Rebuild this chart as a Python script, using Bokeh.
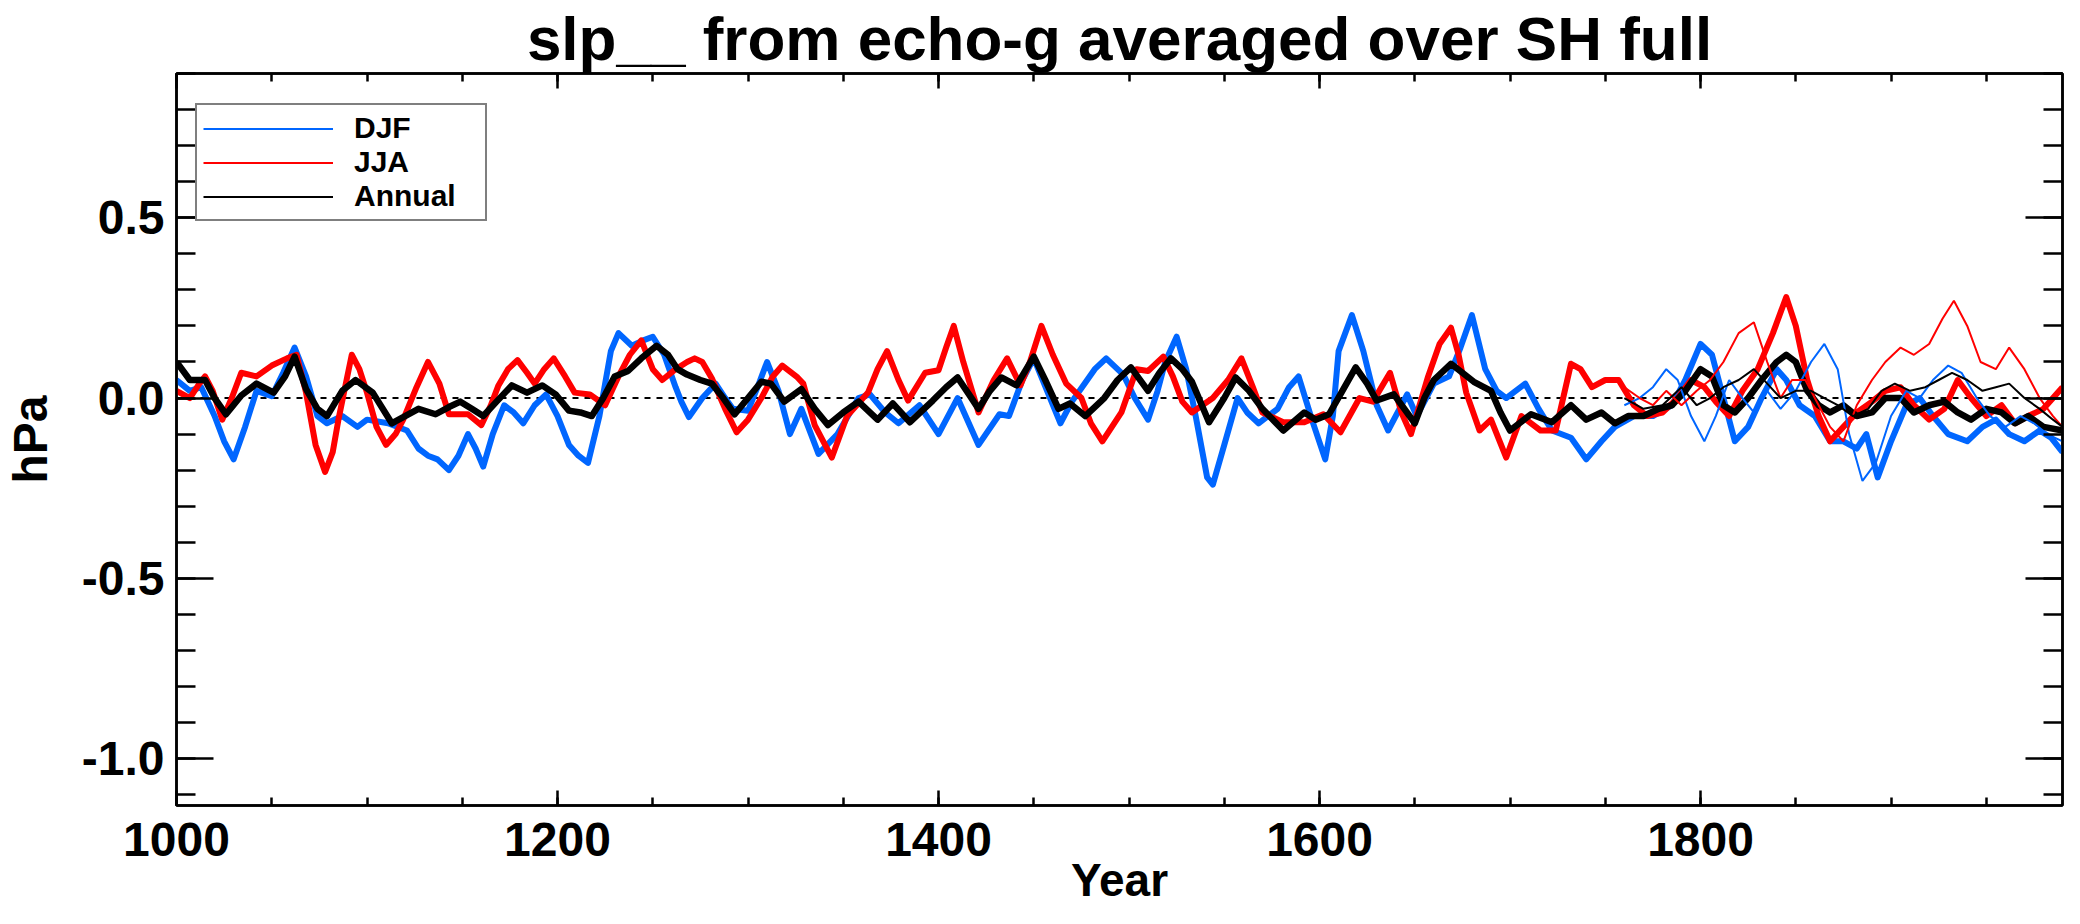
from bokeh.plotting import figure
from bokeh.models import (Range1d, LinearAxis, SingleIntervalTicker, PrintfTickFormatter,
                          Span, Legend, LegendItem)
from bokeh.embed import file_html
from bokeh.resources import INLINE

TITLE = "slp__ from echo-g averaged over SH full"
X_LABEL = "Year"
Y_LABEL = "hPa"
SERIES_NAMES = ["DJF", "JJA", "Annual"]
X_START, X_END = 1000, 1990
Y_START, Y_END = -1.13, 0.9

# ---- model run (thick lines) ----
djf_year = [1000, 1007, 1013, 1020, 1025, 1030, 1036, 1042, 1050, 1056, 1062, 1068, 1074, 1079,
            1087, 1095, 1100, 1111, 1121, 1127, 1132, 1137, 1143, 1148, 1153, 1157, 1161, 1166,
            1172, 1177, 1182, 1188, 1194, 1200, 1206, 1211, 1216, 1222, 1228, 1232, 1239, 1245,
            1250, 1256, 1262, 1265, 1269, 1276, 1283, 1288, 1292, 1300, 1305, 1310, 1316, 1322,
            1328, 1337, 1347, 1358, 1364, 1372, 1379, 1390, 1400, 1410, 1421, 1432, 1437, 1444,
            1450, 1457, 1464, 1470, 1476, 1482, 1488, 1497, 1503, 1510, 1515, 1519, 1525, 1530,
            1535, 1541, 1544, 1550, 1557, 1562, 1568, 1578, 1584, 1589, 1596, 1603, 1607, 1610,
            1617, 1623, 1630, 1636, 1646, 1651, 1660, 1668, 1674, 1680, 1687, 1693, 1698, 1708,
            1715, 1722, 1732, 1740, 1748, 1755, 1765, 1775, 1785, 1792, 1800, 1806, 1812, 1818,
            1825, 1832, 1840, 1845, 1852, 1860, 1868, 1875, 1882, 1887, 1893, 1900, 1908, 1915,
            1922, 1930, 1940, 1948, 1955, 1962, 1970, 1978, 1984, 1990]
djf_val = [0.05, 0.02, 0.03, -0.05, -0.12, -0.17, -0.08, 0.02, 0.005, 0.07, 0.14, 0.06, -0.05, -0.07,
           -0.05, -0.08, -0.06, -0.07, -0.09, -0.14, -0.16, -0.17, -0.20, -0.16, -0.10, -0.14, -0.19, -0.10,
           -0.02, -0.04, -0.07, -0.02, 0.01, -0.05, -0.13, -0.16, -0.18, -0.05, 0.13, 0.18, 0.145, 0.16,
           0.17, 0.12, 0.03, -0.01, -0.053, 0.0, 0.04, 0.0, -0.03, -0.035, 0.03, 0.10, 0.02, -0.10,
           -0.03, -0.155, -0.10, 0.0, 0.01, -0.04, -0.07, -0.02, -0.10, 0.0, -0.13, -0.045, -0.05, 0.05,
           0.11, 0.02, -0.07, -0.01, 0.035, 0.08, 0.11, 0.065, 0.0, -0.06, 0.02, 0.10, 0.17, 0.08,
           -0.05, -0.22, -0.24, -0.13, 0.0, -0.04, -0.07, -0.03, 0.03, 0.06, -0.06, -0.17, -0.05, 0.13,
           0.23, 0.13, -0.02, -0.09, 0.01, -0.05, 0.04, 0.06, 0.14, 0.23, 0.08, 0.02, 0.0, 0.04,
           -0.03, -0.09, -0.11, -0.17, -0.12, -0.08, -0.05, -0.05, -0.02, 0.05, 0.15, 0.12, 0.0, -0.12,
           -0.08, 0.0, 0.08, 0.05, -0.02, -0.05, -0.12, -0.12, -0.14, -0.10, -0.22, -0.12, -0.02, 0.0,
           -0.05, -0.10, -0.12, -0.08, -0.06, -0.10, -0.12, -0.09, -0.11, -0.15]

jja_year = [1000, 1007, 1012, 1015, 1019, 1024, 1029, 1034, 1042, 1050, 1058, 1063, 1068, 1073,
            1078, 1082, 1085, 1092, 1096, 1100, 1105, 1110, 1115, 1119, 1126, 1132, 1138, 1143,
            1153, 1160, 1165, 1169, 1174, 1179, 1184, 1188, 1193, 1198, 1204, 1209, 1217, 1225,
            1232, 1238, 1244, 1250, 1255, 1262, 1268, 1272, 1276, 1281, 1288, 1294, 1300, 1307,
            1313, 1318, 1326, 1329, 1335, 1344, 1352, 1363, 1368, 1373, 1379, 1384, 1393, 1400,
            1404, 1408, 1413, 1421, 1429, 1436, 1443, 1448, 1454, 1460, 1467, 1475, 1480, 1486,
            1496, 1504, 1510, 1518, 1523, 1528, 1533, 1544, 1552, 1559, 1565, 1570, 1581, 1592,
            1602, 1611, 1621, 1628, 1637, 1643, 1648, 1657, 1663, 1669, 1673, 1677, 1684, 1690,
            1698, 1706, 1716, 1724, 1732, 1737, 1743, 1750, 1757, 1765, 1772, 1780, 1788, 1795,
            1802, 1808, 1815, 1822, 1830, 1838, 1845, 1850, 1856, 1862, 1868, 1875, 1882, 1890,
            1897, 1905, 1912, 1920, 1928, 1935, 1942, 1950, 1958, 1965, 1972, 1980, 1990]
jja_val = [0.02, 0.0, 0.04, 0.06, 0.02, -0.06, 0.0, 0.07, 0.06, 0.09, 0.11, 0.12, 0.015, -0.13,
           -0.205, -0.15, -0.06, 0.12, 0.08, 0.015, -0.08, -0.13, -0.10, -0.06, 0.03, 0.10, 0.04, -0.045,
           -0.045, -0.075, -0.02, 0.035, 0.08, 0.105, 0.07, 0.04, 0.08, 0.11, 0.06, 0.015, 0.01, -0.02,
           0.06, 0.12, 0.16, 0.08, 0.05, 0.08, 0.10, 0.11, 0.10, 0.055, -0.03, -0.095, -0.06, 0.0,
           0.06, 0.09, 0.057, 0.04, -0.075, -0.165, -0.05, 0.015, 0.08, 0.13, 0.05, -0.007, 0.07, 0.077,
           0.14, 0.20, 0.10, -0.04, 0.05, 0.11, 0.035, 0.10, 0.20, 0.12, 0.04, 0.0, -0.07, -0.12,
           -0.04, 0.08, 0.075, 0.115, 0.06, -0.01, -0.04, 0.0, 0.05, 0.11, 0.03, -0.04, -0.067, -0.067,
           -0.045, -0.095, 0.0, -0.01, 0.07, -0.04, -0.10, 0.06, 0.15, 0.195, 0.12, 0.015, -0.09, -0.06,
           -0.165, -0.05, -0.09, -0.09, 0.095, 0.08, 0.03, 0.05, 0.05, -0.02, -0.05, -0.04, 0.0, 0.05,
           0.03, -0.01, -0.05, 0.02, 0.08, 0.18, 0.28, 0.20, 0.05, -0.05, -0.12, -0.08, -0.04, -0.01,
           0.02, 0.03, -0.02, -0.06, -0.03, 0.05, 0.0, -0.05, -0.02, -0.07, -0.05, -0.03, 0.03]

ann_year = [1000, 1007, 1015, 1020, 1026, 1034, 1042, 1051, 1057, 1062, 1068, 1074, 1079, 1087,
            1094, 1103, 1113, 1120, 1127, 1136, 1143, 1149, 1155, 1161, 1168, 1176, 1184, 1192,
            1199, 1206, 1212, 1218, 1224, 1230, 1237, 1244, 1252, 1258, 1263, 1268, 1275, 1281,
            1287, 1293, 1300, 1307, 1312, 1319, 1328, 1335, 1342, 1350, 1358, 1368, 1376, 1385,
            1397, 1404, 1410, 1416, 1421, 1427, 1433, 1441, 1450, 1456, 1463, 1469, 1477, 1487,
            1494, 1501, 1510, 1516, 1522, 1528, 1533, 1542, 1550, 1556, 1563, 1570, 1581, 1592,
            1598, 1605, 1612, 1619, 1625, 1630, 1639, 1650, 1655, 1660, 1669, 1675, 1681, 1690,
            1695, 1700, 1711, 1722, 1732, 1740, 1748, 1755, 1762, 1770, 1778, 1785, 1792, 1800,
            1806, 1812, 1818, 1825, 1832, 1840, 1845, 1850, 1856, 1862, 1868, 1875, 1882, 1890,
            1897, 1905, 1912, 1920, 1928, 1935, 1942, 1950, 1958, 1965, 1972, 1980, 1990]
ann_val = [0.10, 0.05, 0.05, 0.0, -0.045, 0.007, 0.04, 0.015, 0.06, 0.115, 0.025, -0.03, -0.05, 0.02,
           0.05, 0.015, -0.07, -0.05, -0.03, -0.045, -0.025, -0.01, -0.03, -0.05, -0.01, 0.035, 0.015, 0.035,
           0.01, -0.035, -0.04, -0.05, 0.0, 0.06, 0.075, 0.11, 0.145, 0.12, 0.08, 0.065, 0.05, 0.04,
           0.0, -0.045, 0.0, 0.045, 0.04, -0.01, 0.025, -0.03, -0.075, -0.04, -0.01, -0.06, -0.015, -0.067,
           -0.007, 0.03, 0.057, 0.01, -0.03, 0.02, 0.057, 0.035, 0.115, 0.05, -0.03, -0.015, -0.05, 0.0,
           0.05, 0.085, 0.02, 0.07, 0.11, 0.08, 0.045, -0.067, 0.0, 0.057, 0.02, -0.03, -0.09, -0.04,
           -0.06, -0.045, 0.02, 0.085, 0.04, -0.007, 0.01, -0.07, 0.0, 0.05, 0.095, 0.07, 0.045, 0.02,
           -0.04, -0.09, -0.045, -0.067, -0.02, -0.06, -0.04, -0.07, -0.05, -0.05, -0.03, -0.02, 0.02, 0.08,
           0.06, -0.02, -0.04, 0.0, 0.05, 0.10, 0.12, 0.10, 0.02, -0.02, -0.04, -0.02, -0.05, -0.04,
           0.0, 0.0, -0.04, -0.02, -0.01, -0.04, -0.06, -0.03, -0.04, -0.07, -0.05, -0.08, -0.09]

# ---- observation-era series (thin lines) ----
obs_djf_year = [1760, 1768, 1775, 1782, 1788, 1795, 1802, 1808, 1815, 1822, 1828, 1835, 1842, 1850,
                1858, 1865, 1872, 1878, 1885, 1892, 1900, 1908, 1915, 1922, 1930, 1937, 1945, 1952,
                1960, 1968, 1975, 1982, 1990]
obs_djf_val = [-0.02, 0.0, 0.03, 0.08, 0.05, -0.05, -0.12, -0.05, 0.05, 0.0, -0.04, 0.02, -0.03, 0.02,
               0.10, 0.15, 0.08, -0.10, -0.23, -0.18, -0.05, 0.02, 0.0, 0.05, 0.09, 0.07, 0.0, -0.05,
               -0.08, -0.05, -0.07, -0.10, -0.12]
obs_jja_year = [1760, 1768, 1775, 1782, 1790, 1798, 1805, 1812, 1820, 1828, 1835, 1842, 1848, 1855,
                1862, 1868, 1875, 1882, 1890, 1897, 1905, 1912, 1920, 1927, 1933, 1940, 1947, 1955,
                1962, 1970, 1978, 1985, 1990]
obs_jja_val = [0.03, 0.0, -0.02, 0.02, -0.02, 0.02, 0.05, 0.10, 0.18, 0.21, 0.10, 0.0, 0.05, 0.05,
               -0.02, -0.08, -0.12, -0.02, 0.05, 0.10, 0.14, 0.12, 0.15, 0.22, 0.27, 0.20, 0.10, 0.08,
               0.14, 0.08, 0.0, -0.05, -0.08]
obs_ann_year = [1760, 1770, 1780, 1790, 1798, 1805, 1812, 1820, 1828, 1835, 1842, 1850, 1858, 1865,
                1872, 1880, 1888, 1895, 1902, 1910, 1918, 1925, 1932, 1940, 1948, 1955, 1962, 1970,
                1978, 1985, 1990]
obs_ann_val = [0.0, -0.03, -0.02, 0.03, -0.02, 0.0, 0.03, 0.05, 0.08, 0.04, 0.0, 0.02, 0.02, 0.0,
               -0.02, -0.05, -0.03, 0.02, 0.04, 0.02, 0.03, 0.05, 0.07, 0.05, 0.02, 0.03, 0.04, 0.0,
               -0.03, -0.06, -0.08]

BLUE = "#0066ff"
RED = "#ff0000"
BLACK = "#000000"
FONT = "Liberation Sans"

p = figure(width=2064, height=908, output_backend="svg", toolbar_location=None,
           x_range=Range1d(X_START, X_END), y_range=Range1d(Y_START, Y_END),
           min_border_left=175, min_border_right=2, min_border_top=0, min_border_bottom=0,
           background_fill_color="white", border_fill_color="white")
p.title.text = TITLE
p.title.text_font = FONT
p.title.text_font_style = "bold"
p.title.text_font_size = "62px"
p.title.text_color = "black"
p.title.align = "center"
p.title.standoff = 2
p.xgrid.grid_line_color = None
p.ygrid.grid_line_color = None
p.outline_line_color = "black"
p.outline_line_width = 2.5


def style_axis(ax, major_in, minor_in, labels=True):
    ax.axis_line_width = 2.5
    ax.axis_line_color = "black"
    ax.major_tick_in = major_in
    ax.major_tick_out = 0
    ax.minor_tick_in = minor_in
    ax.minor_tick_out = 0
    ax.major_tick_line_width = 2.5
    ax.minor_tick_line_width = 2.5
    ax.major_tick_line_color = "black"
    ax.minor_tick_line_color = "black"
    if labels:
        ax.major_label_text_font = FONT
        ax.major_label_text_font_style = "bold"
        ax.major_label_text_font_size = "48px"
        ax.major_label_text_color = "black"
        ax.axis_label_text_font = FONT
        ax.axis_label_text_font_style = "bold"
        ax.axis_label_text_color = "black"
    else:
        ax.major_label_text_font_size = "0px"
        ax.major_label_text_color = None
        ax.major_label_text_alpha = 0
        ax.major_label_standoff = 0


xa = p.xaxis[0]
xa.ticker = SingleIntervalTicker(interval=200, num_minor_ticks=4)
style_axis(xa, 15, 8)
xa.major_label_standoff = 17
xa.axis_label = X_LABEL
xa.axis_label_text_font_size = "46px"
xa.axis_label_standoff = -5

ya = p.yaxis[0]
ya.ticker = SingleIntervalTicker(interval=0.5, num_minor_ticks=5)
ya.formatter = PrintfTickFormatter(format="%.1f")
style_axis(ya, 37, 19)
ya.major_label_standoff = 12
ya.axis_label = Y_LABEL
ya.axis_label_text_font_size = "48px"
ya.axis_label_standoff = 22

ta = LinearAxis(ticker=SingleIntervalTicker(interval=200, num_minor_ticks=4))
style_axis(ta, 15, 8, labels=False)
p.add_layout(ta, "above")
ra = LinearAxis(ticker=SingleIntervalTicker(interval=0.5, num_minor_ticks=5))
style_axis(ra, 37, 19, labels=False)
p.add_layout(ra, "right")

zero = Span(location=0, dimension="width", line_color="black", line_width=2,
            line_dash="6 6", level="underlay")
p.add_layout(zero)

p.line(djf_year, djf_val, line_color=BLUE, line_width=6, line_join="round")
p.line(jja_year, jja_val, line_color=RED, line_width=6, line_join="round")
p.line(ann_year, ann_val, line_color=BLACK, line_width=6.5, line_join="round")
tb = p.line(obs_djf_year, obs_djf_val, line_color=BLUE, line_width=2)
tr = p.line(obs_jja_year, obs_jja_val, line_color=RED, line_width=2)
tk = p.line(obs_ann_year, obs_ann_val, line_color=BLACK, line_width=2)

legend = Legend(items=[LegendItem(label=SERIES_NAMES[0], renderers=[tb]),
                       LegendItem(label=SERIES_NAMES[1], renderers=[tr]),
                       LegendItem(label=SERIES_NAMES[2], renderers=[tk])],
                location=(19, 584), orientation="vertical",
                label_text_font=FONT, label_text_font_style="bold", label_text_font_size="30px",
                label_text_color="black", label_standoff=21, label_height=31, label_width=125,
                glyph_width=130, glyph_height=31, spacing=0, padding=6, margin=0,
                border_line_color="black", border_line_width=2.5,
                background_fill_color="white", background_fill_alpha=1.0)
p.add_layout(legend)

open("out.html", "w").write(file_html(p, INLINE))
